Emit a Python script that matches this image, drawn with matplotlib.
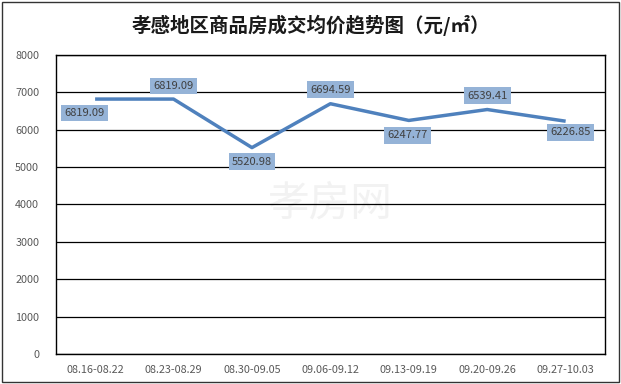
import matplotlib
matplotlib.use("Agg")
import matplotlib.pyplot as plt
from matplotlib.patches import Rectangle

plt.rcParams['font.family'] = ['Noto Sans CJK SC', 'DejaVu Sans']

categories = ["08.16-08.22", "08.23-08.29", "08.30-09.05", "09.06-09.12",
              "09.13-09.19", "09.20-09.26", "09.27-10.03"]
prices = [6819.09, 6819.09, 5520.98, 6694.59, 6247.77, 6539.41, 6226.85]
yticks = [0, 1000, 2000, 3000, 4000, 5000, 6000, 7000, 8000]
# label offsets (pixels) relative to each point
label_offsets = [(-11, -14), (0, 13), (0, -14), (0, 14), (-1, -15), (0, 14), (5, -11)]

fig = plt.figure(figsize=(6.21, 3.84), dpi=100)
fig.patches.append(Rectangle((0.003, 0.005), 0.994, 0.99, transform=fig.transFigure,
                             fill=False, edgecolor='#333333', linewidth=1.0))
ax = fig.add_axes([0.090, 0.078, 0.884, 0.779])

x = list(range(len(categories)))
ax.plot(x, prices, color='#4F81BD', linewidth=2.5, solid_capstyle='butt', zorder=3)
ax.set_xlim(-0.5, len(categories) - 0.5)
ax.set_ylim(0, 8000)
ax.set_yticks(yticks)
ax.set_yticklabels([str(v) for v in yticks])
ax.set_xticks(x)
ax.set_xticklabels(categories)
ax.tick_params(axis='both', length=0, labelsize=7.8, colors='#595959')
ax.tick_params(axis='x', pad=8)
ax.tick_params(axis='y', pad=12)
ax.grid(axis='y', color='black', linewidth=0.9, zorder=1)
for s in ax.spines.values():
    s.set_color('black')
    s.set_linewidth(1.0)

for xi, yi, (dx, dy) in zip(x, prices, label_offsets):
    ax.annotate(f"{yi:.2f}", (xi, yi), xytext=(dx * 0.72, dy * 0.72), textcoords='offset points',
                ha='center', va='center', fontsize=8, color='#404040', zorder=4,
                bbox=dict(boxstyle='square,pad=0.3', facecolor='#95B3D7', edgecolor='none'))

ax.text(0.5, 0.5, "孝房网", transform=ax.transAxes, ha='center', va='center',
        fontsize=30, color='#F2F2F2', zorder=0.5)

fig.text(0.5, 0.935, "孝感地区商品房成交均价趋势图（元/㎡）", ha='center', va='center',
         fontsize=14, fontweight='bold', color='#1a1a1a')

fig.savefig("out.png", dpi=100)
